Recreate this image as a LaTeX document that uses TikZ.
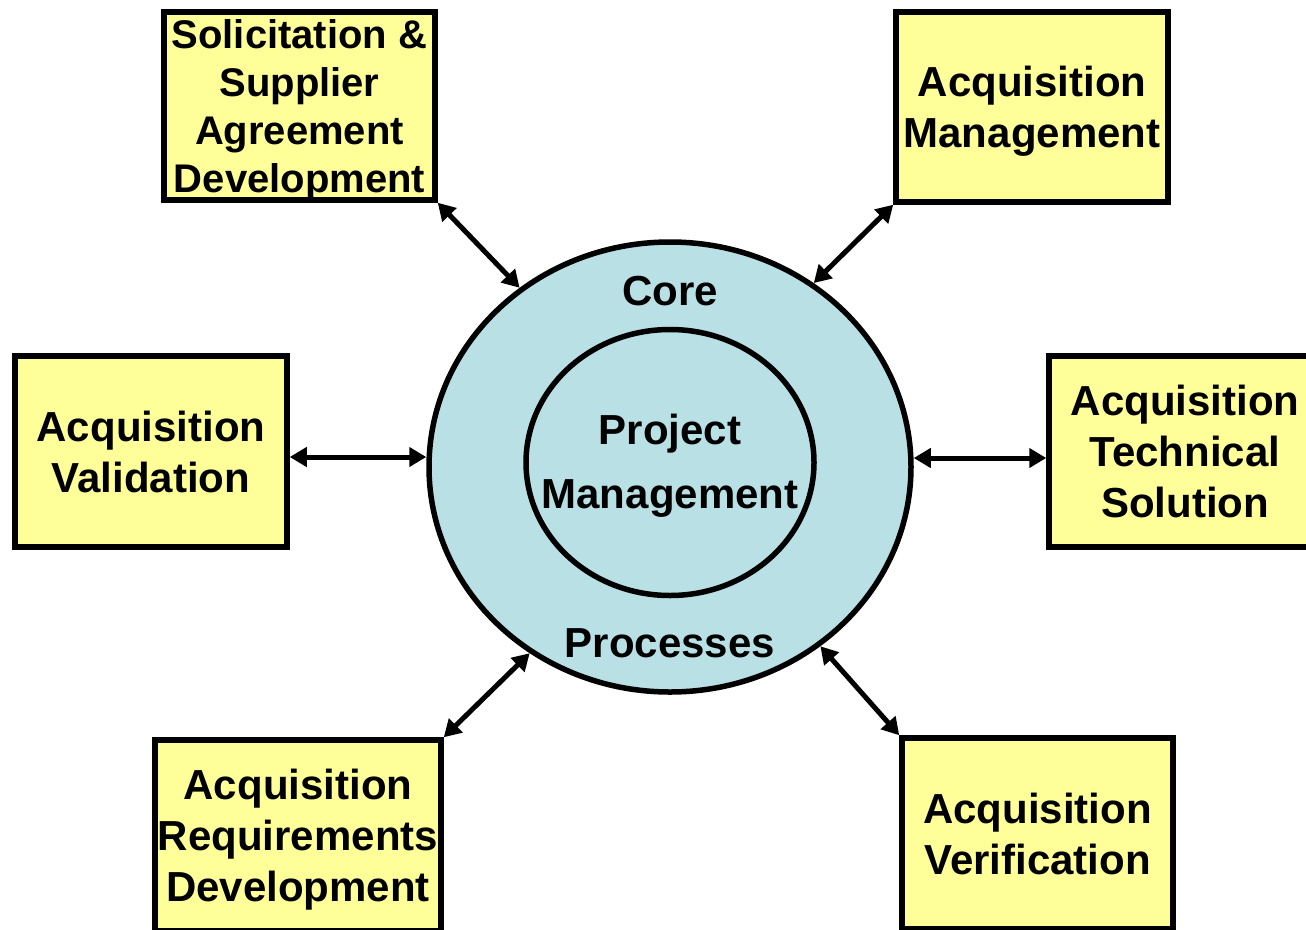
\documentclass[tikz,border=0pt]{standalone}
\usepackage{fontspec}
\setmainfont{Liberation Sans}
\usetikzlibrary{arrows.meta,shapes.geometric}
\definecolor{areayellow}{RGB}{255,255,153}
\definecolor{coreblue}{RGB}{185,224,228}

\begin{document}
\begin{tikzpicture}[x=1pt, y=-1pt,
  area/.style={draw, line width=5.5pt, fill=areayellow, inner sep=0pt,
    minimum width=272pt, minimum height=190pt, align=center, text depth=0pt,
    font=\fontsize{42}{51}\selectfont\bfseries},
  ring/.style={ellipse, draw, line width=5.5pt, fill=coreblue, inner sep=0pt},
  ringtext/.style={align=center, font=\fontsize{42}{51}\selectfont\bfseries},
  link/.style={line width=5pt, {Triangle[length=17pt,width=19pt]}-{Triangle[length=17pt,width=19pt]}}]
  % Page size, boxes at the bottom and right run off the edge
  \useasboundingbox (0,0) rectangle (1306,929);
  \clip (0,0) rectangle (1306,929);

  % Core processes and project management
  \node[ring, minimum width=482pt, minimum height=450pt] (core) at (670,467) {};
  \node[ring, minimum width=288pt, minimum height=266pt] (pm) at (670,462.5) {};
  \node[ringtext, font=\fontsize{42}{64}\selectfont\bfseries] (pmlbl) at (670,466) {Project\\Management};
  \node[ringtext] (corelbl) at (670,291) {Core};
  \node[ringtext] (proclbl) at (670,643) {Processes};

  % Process areas round the core
  \node[area, minimum width=271pt, minimum height=188pt,
    font=\fontsize{40}{48}\selectfont\bfseries] (ssad) at (299.5,106)
    {Solicitation \&\\Supplier\\Agreement\\Development};
  \node[area] (am) at (1032,107) {Acquisition\\Management};
  \node[area, minimum height=191pt] (av) at (151,451.5) {Acquisition\\Validation};
  \node[area, minimum height=191pt] (ats) at (1185,451.5) {Acquisition\\Technical\\Solution};
  \node[area, minimum width=286pt, minimum height=191pt] (ard) at (298,835.5)
    {Acquisition\\Requirements\\Development};
  \node[area, minimum width=271pt, minimum height=191pt] (aver) at (1037.5,833.5)
    {Acquisition\\Verification};

  % Links
  \coordinate (avout) at ([yshift=-5.5pt]av.east);
  \coordinate (atsin) at ([yshift=-6.5pt]ats.west);
  \draw[link] (ssad.south east) -- (core.130);
  \draw[link] (am.south west) -- (core.52.6);
  \draw[link] (avout) -- (avout -| core.west);
  \draw[link] (atsin -| core.east) -- (atsin);
  \draw[link] (ard.north east) -- (core.233.3);
  \draw[link] (aver.north west) -- (core.310.6);
\end{tikzpicture}
\end{document}
